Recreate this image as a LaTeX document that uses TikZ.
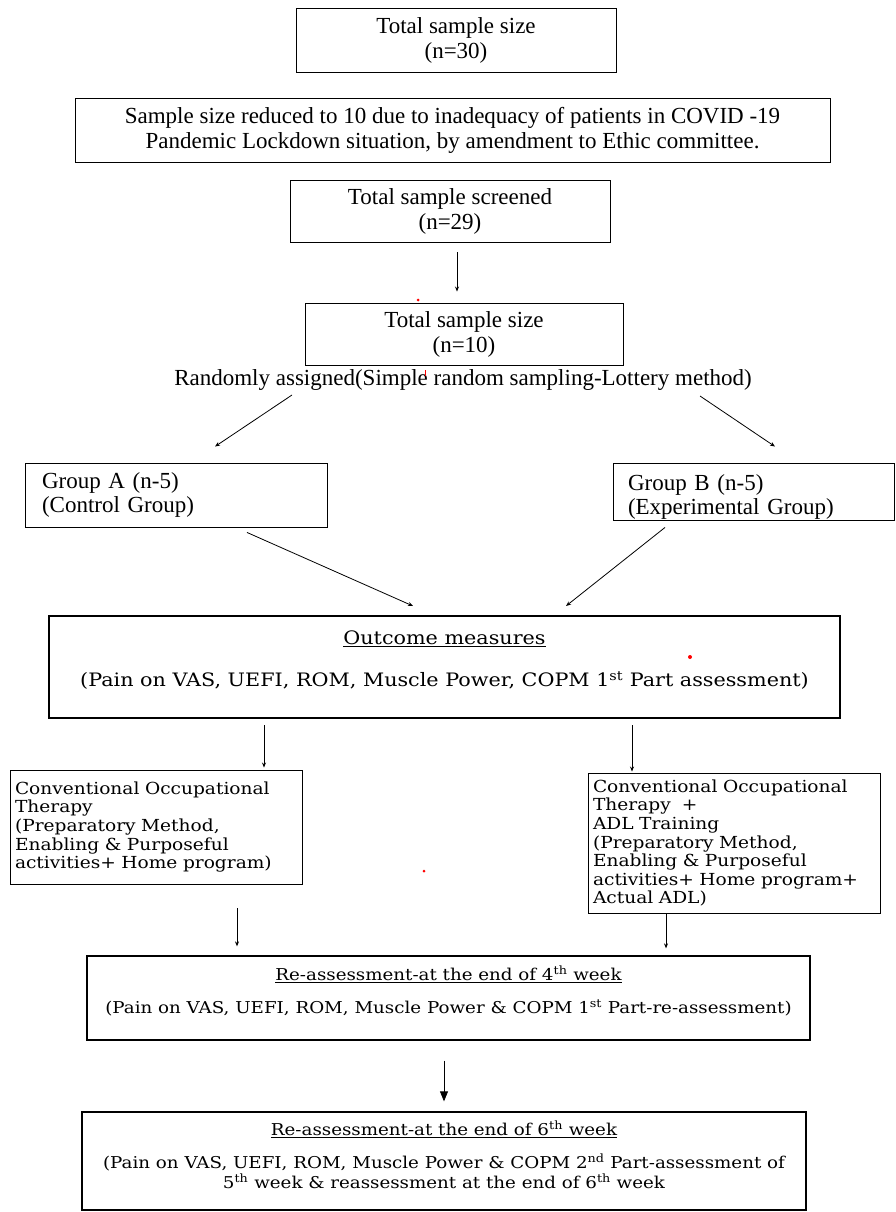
\documentclass[tikz,border=0pt]{standalone}
\usepackage{fontspec}
\setmainfont{Liberation Serif}
\newfontfamily\wideserif{DejaVu Serif}[FakeStretch=1.12]
\usetikzlibrary{arrows.meta}

\begin{document}
\begin{tikzpicture}[x=1pt,y=-1pt,
	box/.style={draw, line width=0.9pt, inner sep=0pt, align=center, font=\fontsize{23}{25}\selectfont},
	grpbox/.style={draw, line width=0.9pt, inner ysep=0pt, align=left, font=\fontsize{23}{24}\selectfont},
	thbox/.style={draw, line width=0.9pt, inner xsep=5pt, inner ysep=0pt, align=left, text width=282pt, font=\wideserif\fontsize{16.6}{18.6}\selectfont},
	bigbox/.style={draw, inner sep=0pt, align=center, font=\wideserif\fontsize{16.3}{20}\selectfont},
	arr/.style={-{Stealth[length=5pt,width=4pt]}, line width=0.8pt}]
	\useasboundingbox (0,0) rectangle (895,1212);

	% top of the chart
	\node[box, minimum width=320pt, minimum height=64pt] (n30) at (456,40) {Total sample size\\(n=30)};
	\node[box, minimum width=755pt, minimum height=64pt] (reduce) at (452.5,130)
		{Sample size reduced to 10 due to inadequacy of patients in COVID -19\\Pandemic Lockdown situation, by amendment to Ethic committee.};
	\node[box, minimum width=320pt, minimum height=62pt] (scr) at (450,211) {Total sample screened\\(n=29)};
	\node[box, minimum width=318pt, minimum height=62pt] (n10) at (464,334) {Total sample size\\(n=10)};
	\node[font=\fontsize{23}{25}\selectfont, inner sep=0pt] (rand) at (463,380)
		{Randomly assigned(Simple random sampling-Lottery method)};

	% the two groups
	\node[grpbox, minimum width=302pt, minimum height=64pt, inner xsep=17pt, text width=268pt] (grpA) at (176,495)
		{Group A (n-5)\\(Control Group)};
	\node[grpbox, minimum width=281pt, minimum height=57pt, inner xsep=15pt, text width=251pt] (grpB) at (753.5,491.5)
		{\rule{0pt}{27pt}Group B (n-5)\\(Experimental Group)};

	\node[bigbox, line width=2pt, minimum width=791pt, minimum height=102pt, font=\wideserif\fontsize{18.5}{20}\selectfont] (out) at (444.5,667)
		{\underline{Outcome measures}\\[22pt](Pain on VAS, UEFI, ROM, Muscle Power, COPM 1\textsuperscript{st} Part assessment)\rule[-16pt]{0pt}{16pt}};

	% therapy given
	\node[thbox, minimum height=114pt] (lther) at (156,827)
		{Conventional Occupational\\Therapy\\(Preparatory Method,\\Enabling \& Purposeful\\activities+ Home program)};
	\node[thbox, minimum height=140pt] (rther) at (734,843)
		{Conventional Occupational\\Therapy\ \ +\\ADL Training\\(Preparatory Method,\\Enabling \& Purposeful\\activities+ Home program+\\Actual ADL)};

	% re-assessments
	\node[bigbox, line width=1.3pt, minimum width=723pt, minimum height=84pt] (re4) at (448.5,998)
		{\underline{Re-assessment-at the end of 4\textsuperscript{th} week}\\[13pt](Pain on VAS, UEFI, ROM, Muscle Power \& COPM 1\textsuperscript{st} Part-re-assessment)\rule[-16pt]{0pt}{16pt}};
	\node[bigbox, line width=1.3pt, minimum width=724pt, minimum height=98pt] (re6) at (444,1161)
		{\underline{Re-assessment-at the end of 6\textsuperscript{th} week}\\[13pt](Pain on VAS, UEFI, ROM, Muscle Power \& COPM 2\textsuperscript{nd} Part-assessment of\\5\textsuperscript{th} week \& reassessment at the end of 6\textsuperscript{th} week\rule[-12pt]{0pt}{12pt}};

	% arrows
	\draw[arr] ([xshift=7pt,yshift=-10pt]scr.south) -- ([xshift=-7pt,yshift=11pt]n10.north);
	\draw[arr] ([xshift=-171pt,yshift=-15pt]rand.center) -- ([xshift=39pt,yshift=16pt]grpA.north);
	\draw[arr] ([xshift=237pt,yshift=-16pt]rand.center) -- ([xshift=21.5pt,yshift=16pt]grpB.north);
	\draw[arr] ([xshift=71pt,yshift=-5pt]grpA.south) -- ([xshift=-31.5pt,yshift=9pt]out.north);
	\draw[arr] ([xshift=-88.5pt,yshift=-7pt]grpB.south) -- ([xshift=121.5pt,yshift=9pt]out.north);
	\draw[arr] ([xshift=-180.5pt,yshift=-6pt]out.south) -- ([xshift=108pt,yshift=2pt]lther.north);
	\draw[arr] ([xshift=187.5pt,yshift=-6pt]out.south) -- ([xshift=-102pt,yshift=1pt]rther.north);
	\draw[arr] ([xshift=81pt,yshift=-24pt]lther.south) -- ([xshift=-211.5pt,yshift=9pt]re4.north);
	\draw[arr] ([xshift=-68pt]rther.south) -- ([xshift=217.5pt,yshift=7pt]re4.north);
	\draw[-{Triangle[length=10pt,width=8pt]}, line width=0.8pt] ([xshift=-4.5pt,yshift=-20pt]re4.south) -- ([yshift=10pt]re6.north);

	% stray red marks
	\fill[red] (418,300) circle (1.5pt);
	\fill[red] (690,657) circle (2pt);
	\fill[red] (424,871) circle (1.5pt);
	\draw[red, line width=0.6pt] (425,370) -- (425,376);
\end{tikzpicture}
\end{document}
